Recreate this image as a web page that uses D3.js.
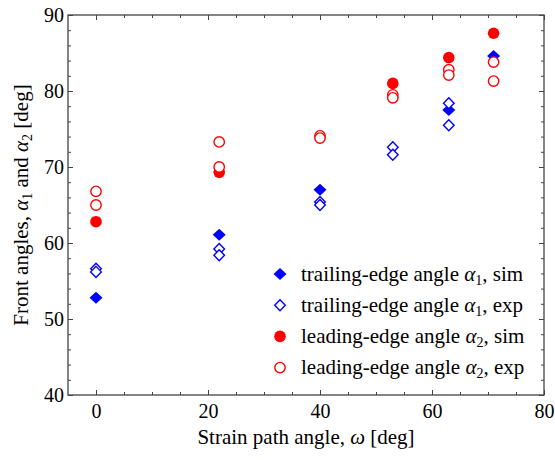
<!DOCTYPE html>
<html>
<head>
<meta charset="utf-8">
<script src="https://cdn.jsdelivr.net/npm/d3@7"></script>
<style>
  body { margin: 0; background: #fff; }
</style>
</head>
<body>
<script>
// strain path angle of each point, and the front angles
const trailSimOmega = [0, 22, 40, 63, 71];
const trailSim = [52.8, 61.1, 67.0, 77.5, 84.6];
const trailExpOmega = [0, 0, 22, 22, 40, 40, 53, 53, 63, 63];
const trailExp = [56.6, 56.2, 59.2, 58.4, 65.4, 65.0, 72.6, 71.6, 78.4, 75.5];
const leadSimOmega = [0, 22, 53, 63, 71];
const leadSim = [62.8, 69.3, 81.0, 84.4, 87.6];
const leadExpOmega = [0, 0, 22, 22, 40, 40, 53, 53, 63, 63, 71, 71];
const leadExp = [66.8, 65.0, 73.3, 70.0, 74.1, 73.8, 79.5, 79.1, 82.8, 82.1, 83.8, 81.3];

const xTicks = [0, 20, 40, 60, 80];
const yTicks = [40, 50, 60, 70, 80, 90];
const legendLabels = [
  ["trailing-edge angle ", "α", "1", ", sim"],
  ["trailing-edge angle ", "α", "1", ", exp"],
  ["leading-edge angle ", "α", "2", ", sim"],
  ["leading-edge angle ", "α", "2", ", exp"]
];

const W = 555, H = 460;
const m = { left: 68, right: 11, top: 15, bottom: 65 };
const blue = "#0000ff", red = "#ff0000", axisCol = "#444";
const font = "'Liberation Serif'";

const svg = d3.select("body").append("svg").attr("width", W).attr("height", H)
  .attr("font-family", font);

const x = d3.scaleLinear().domain([-5, 80]).range([m.left, W - m.right]);
const y = d3.scaleLinear().domain([40, 90]).range([H - m.bottom, m.top]);

const xMinor = d3.range(0, 81, 5).filter(v => !xTicks.includes(v));
const yMinor = d3.range(40, 91, 2).filter(v => !yTicks.includes(v));

// frame
svg.append("rect")
  .attr("x", x.range()[0]).attr("y", y.range()[1])
  .attr("width", x.range()[1] - x.range()[0])
  .attr("height", y.range()[0] - y.range()[1])
  .attr("fill", "none").attr("stroke", axisCol).attr("stroke-width", 1.3);

const styleAxis = g => {
  g.attr("font-family", font).attr("font-size", 20);
  g.select(".domain").remove();
  g.selectAll("line").attr("stroke", axisCol).attr("stroke-width", 1);
  g.selectAll("text").attr("fill", "#000");
};

// bottom
svg.append("g").attr("transform", `translate(0,${y(40)})`)
  .call(d3.axisBottom(x).tickValues(xTicks).tickSizeInner(-5).tickPadding(9).tickFormat(d3.format("d")))
  .call(styleAxis);
svg.append("g").attr("transform", `translate(0,${y(40)})`)
  .call(d3.axisBottom(x).tickValues(xMinor).tickSizeInner(-3).tickFormat(""))
  .call(styleAxis);
// top
svg.append("g").attr("transform", `translate(0,${y(90)})`)
  .call(d3.axisTop(x).tickValues(xTicks).tickSizeInner(-5).tickFormat(""))
  .call(styleAxis);
svg.append("g").attr("transform", `translate(0,${y(90)})`)
  .call(d3.axisTop(x).tickValues(xMinor).tickSizeInner(-3).tickFormat(""))
  .call(styleAxis);
// left
svg.append("g").attr("transform", `translate(${x(-5)},0)`)
  .call(d3.axisLeft(y).tickValues(yTicks).tickSizeInner(-5).tickPadding(4).tickFormat(d3.format("d")))
  .call(styleAxis);
svg.append("g").attr("transform", `translate(${x(-5)},0)`)
  .call(d3.axisLeft(y).tickValues(yMinor).tickSizeInner(-3).tickFormat(""))
  .call(styleAxis);
// right
svg.append("g").attr("transform", `translate(${x(80)},0)`)
  .call(d3.axisRight(y).tickValues(yTicks).tickSizeInner(-5).tickFormat(""))
  .call(styleAxis);
svg.append("g").attr("transform", `translate(${x(80)},0)`)
  .call(d3.axisRight(y).tickValues(yMinor).tickSizeInner(-3).tickFormat(""))
  .call(styleAxis);

// markers
const diamond = (w, h) => `M0,${-h}L${w},0L0,${h}L${-w},0Z`;
const marks = {
  trailSim: g => g.append("path").attr("d", diamond(6.5, 6)).attr("fill", blue),
  trailExp: g => g.append("path").attr("d", diamond(5.3, 5.5)).attr("fill", "#fff").attr("stroke", blue).attr("stroke-width", 1.4),
  leadSim: g => g.append("circle").attr("r", 5.8).attr("fill", red),
  leadExp: g => g.append("circle").attr("r", 5.2).attr("fill", "#fff").attr("stroke", red).attr("stroke-width", 1.4)
};

const series = [
  { key: "trailSim", xs: trailSimOmega, ys: trailSim },
  { key: "trailExp", xs: trailExpOmega, ys: trailExp },
  { key: "leadSim", xs: leadSimOmega, ys: leadSim },
  { key: "leadExp", xs: leadExpOmega, ys: leadExp }
];

series.forEach(s => {
  svg.append("g").selectAll("g")
    .data(s.ys.map((v, i) => [s.xs[i], v]))
    .enter().append("g")
    .attr("transform", d => `translate(${x(d[0])},${y(d[1])})`)
    .each(function () { marks[s.key](d3.select(this)); });
});

// legend
const lg = svg.append("g").attr("transform", "translate(280,274)");
series.forEach((s, i) => {
  const row = lg.append("g").attr("transform", `translate(0,${i * 31.2})`);
  marks[s.key](row.append("g"));
  const t = row.append("text").attr("x", 21).attr("y", 6.5).attr("font-size", 21);
  const parts = legendLabels[i];
  t.append("tspan").text(parts[0]);
  t.append("tspan").attr("font-style", "italic").text(parts[1]);
  t.append("tspan").attr("dy", 4).attr("font-size", 14).text(parts[2]);
  t.append("tspan").attr("dy", -4).text(parts[3]);
});

// axis titles
const xt = svg.append("text")
  .attr("x", (x.range()[0] + x.range()[1]) / 2).attr("y", 444)
  .attr("text-anchor", "middle").attr("font-size", 21);
xt.append("tspan").text("Strain path angle, ");
xt.append("tspan").attr("font-style", "italic").text("ω");
xt.append("tspan").text(" [deg]");

const yt = svg.append("text")
  .attr("transform", `translate(28,${(y.range()[0] + y.range()[1]) / 2}) rotate(-90)`)
  .attr("text-anchor", "middle").attr("font-size", 21);
yt.append("tspan").text("Front angles, ");
yt.append("tspan").attr("font-style", "italic").text("α");
yt.append("tspan").attr("dy", 4).attr("font-size", 14).text("1");
yt.append("tspan").attr("dy", -4).text(" and ");
yt.append("tspan").attr("font-style", "italic").text("α");
yt.append("tspan").attr("dy", 4).attr("font-size", 14).text("2");
yt.append("tspan").attr("dy", -4).text(" [deg]");
</script>
</body>
</html>
